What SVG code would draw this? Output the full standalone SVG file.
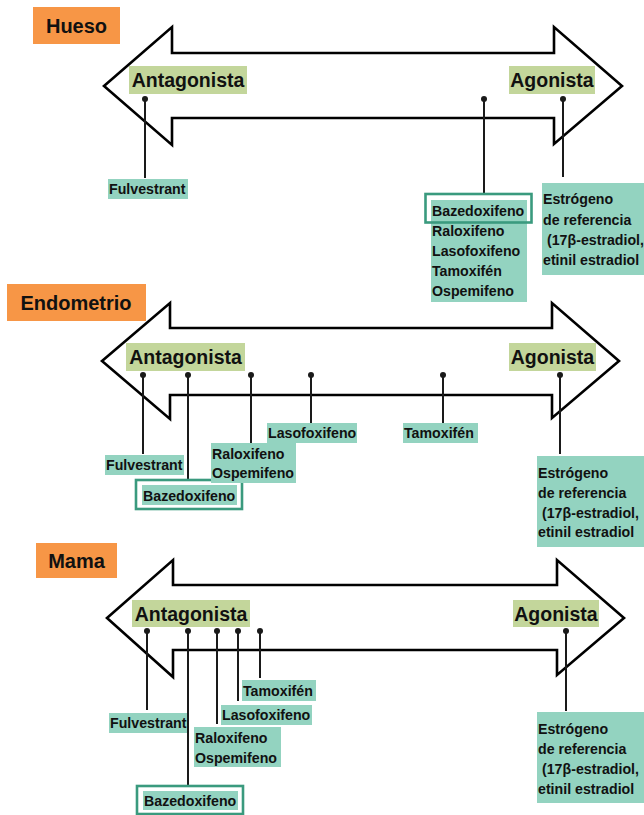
<svg xmlns="http://www.w3.org/2000/svg" width="644" height="815" viewBox="0 0 644 815">
<style>
.bg{fill:#ffffff}
.arrow{fill:#ffffff;stroke:#000000;stroke-width:2.6;stroke-linejoin:miter}
.org{fill:#f79646}
.gl{fill:#c3d69b}
.tl{fill:#93d3c0}
.ol{fill:none;stroke:#3a9a7e;stroke-width:2.6}
.h{font-family:"Liberation Sans",Arial,sans-serif;font-weight:bold;font-size:20px;fill:#111}
.hc{font-family:"Liberation Sans",Arial,sans-serif;font-weight:bold;font-size:19.5px;fill:#111}
.s{font-family:"Liberation Sans",Arial,sans-serif;font-weight:bold;font-size:14.2px;fill:#111}
.ln{stroke:#1a1a1a;stroke-width:2;fill:none}
.dot{fill:#1a1a1a}
</style>
<rect class="bg" x="0" y="0" width="644" height="815"/>

<!-- ===== Hueso ===== -->
<g id="hueso-title"><rect class="org" x="33" y="7" width="87" height="37"/><text class="h" x="76.5" y="33" text-anchor="middle">Hueso</text></g>
<g id="hueso-arrow"><polygon class="arrow" points="104,86 172,27 172,53 554,53 554,27 622,86 554,144 554,118 172,118 172,145"/></g>
<g id="hueso-antagonista"><rect class="gl" x="129" y="66" width="118" height="28"/><text class="hc" x="188" y="87" text-anchor="middle">Antagonista</text></g>
<g id="hueso-agonista"><rect class="gl" x="509" y="66" width="86" height="28"/><text class="hc" x="552" y="87" text-anchor="middle">Agonista</text></g>
<g id="hueso-connectors">
<line class="ln" x1="145" y1="99" x2="145" y2="178"/><circle class="dot" cx="145" cy="99" r="3"/>
<line class="ln" x1="484" y1="99" x2="484" y2="194"/><circle class="dot" cx="484" cy="99" r="3"/>
<line class="ln" x1="563" y1="99" x2="563" y2="177"/><circle class="dot" cx="563" cy="99" r="3"/>
</g>
<g id="hueso-fulvestrant"><rect class="tl" x="108" y="179" width="80" height="20"/><text class="s" x="109" y="194">Fulvestrant</text></g>
<g id="hueso-serms"><rect class="tl" x="431" y="200" width="96" height="102"/>
<rect class="ol" x="425.5" y="194" width="106" height="28.5"/>
<text class="s" x="432" y="216">Bazedoxifeno</text>
<text class="s" x="432" y="236">Raloxifeno</text>
<text class="s" x="432" y="256">Lasofoxifeno</text>
<text class="s" x="432" y="276">Tamoxifén</text>
<text class="s" x="432" y="296">Ospemifeno</text></g>
<g id="hueso-estrogeno"><rect class="tl" x="542" y="183" width="102" height="92"/>
<text class="s" x="543" y="204">Estrógeno</text>
<text class="s" x="543" y="225">de referencia</text>
<text class="s" x="547" y="245">(17β-estradiol,</text>
<text class="s" x="543" y="265">etinil estradiol</text></g>

<!-- ===== Endometrio ===== -->
<g id="endometrio-title"><rect class="org" x="7" y="284" width="139" height="37"/><text class="h" x="76" y="310" text-anchor="middle">Endometrio</text></g>
<g id="endometrio-arrow"><polygon class="arrow" points="102,361 170,303 170,328 552,328 552,303 619,361 552,418 552,395 170,395 170,419"/></g>
<g id="endometrio-antagonista"><rect class="gl" x="126" y="343" width="119" height="28"/><text class="hc" x="185.5" y="364" text-anchor="middle">Antagonista</text></g>
<g id="endometrio-agonista"><rect class="gl" x="509" y="343" width="87" height="28"/><text class="hc" x="552.5" y="364" text-anchor="middle">Agonista</text></g>
<g id="endometrio-connectors">
<line class="ln" x1="143" y1="375" x2="143" y2="454"/><circle class="dot" cx="143" cy="375" r="3"/>
<line class="ln" x1="188" y1="375" x2="188" y2="481"/><circle class="dot" cx="188" cy="375" r="3"/>
<line class="ln" x1="251" y1="375" x2="251" y2="443"/><circle class="dot" cx="251" cy="375" r="3"/>
<line class="ln" x1="311" y1="375" x2="311" y2="423"/><circle class="dot" cx="311" cy="375" r="3"/>
<line class="ln" x1="443" y1="375" x2="443" y2="423"/><circle class="dot" cx="443" cy="375" r="3"/>
<line class="ln" x1="560" y1="375" x2="560" y2="454"/><circle class="dot" cx="560" cy="375" r="3"/>
</g>
<g id="endometrio-fulvestrant"><rect class="tl" x="105" y="455" width="79" height="20"/><text class="s" x="106" y="470">Fulvestrant</text></g>
<g id="endometrio-bazedoxifeno"><rect class="tl" x="142" y="485" width="95" height="20"/><rect class="ol" x="136" y="480" width="106" height="29"/><text class="s" x="143" y="501">Bazedoxifeno</text></g>
<g id="endometrio-raloxifeno"><rect class="tl" x="211" y="443" width="85" height="40"/><text class="s" x="212" y="459">Raloxifeno</text><text class="s" x="212" y="478">Ospemifeno</text></g>
<g id="endometrio-lasofoxifeno"><rect class="tl" x="267" y="423" width="90" height="20"/><text class="s" x="268" y="438">Lasofoxifeno</text></g>
<g id="endometrio-tamoxifen"><rect class="tl" x="403" y="423" width="75" height="20"/><text class="s" x="404" y="438">Tamoxifén</text></g>
<g id="endometrio-estrogeno"><rect class="tl" x="537" y="456" width="107" height="91"/>
<text class="s" x="538" y="478">Estrógeno</text>
<text class="s" x="538" y="498">de referencia</text>
<text class="s" x="542" y="518">(17β-estradiol,</text>
<text class="s" x="538" y="537">etinil estradiol</text></g>

<!-- ===== Mama ===== -->
<g id="mama-title"><rect class="org" x="36" y="543" width="81" height="35"/><text class="h" x="76.5" y="568" text-anchor="middle">Mama</text></g>
<g id="mama-arrow"><polygon class="arrow" points="107,618 173,560 173,585 557,585 557,560 624,618 557,675 557,650 173,650 173,677"/></g>
<g id="mama-antagonista"><rect class="gl" x="132" y="600" width="118" height="27"/><text class="hc" x="191" y="621" text-anchor="middle">Antagonista</text></g>
<g id="mama-agonista"><rect class="gl" x="513" y="600" width="86" height="27"/><text class="hc" x="556" y="621" text-anchor="middle">Agonista</text></g>
<g id="mama-connectors">
<line class="ln" x1="147" y1="631" x2="147" y2="710"/><circle class="dot" cx="147" cy="631" r="3"/>
<line class="ln" x1="188" y1="631" x2="188" y2="787"/><circle class="dot" cx="188" cy="631" r="3"/>
<line class="ln" x1="217" y1="631" x2="217" y2="724"/><circle class="dot" cx="217" cy="631" r="3"/>
<line class="ln" x1="238" y1="631" x2="238" y2="701"/><circle class="dot" cx="238" cy="631" r="3"/>
<line class="ln" x1="260" y1="631" x2="260" y2="678"/><circle class="dot" cx="260" cy="631" r="3"/>
<line class="ln" x1="566" y1="631" x2="566" y2="711"/><circle class="dot" cx="566" cy="631" r="3"/>
</g>
<g id="mama-fulvestrant"><rect class="tl" x="109" y="713" width="78" height="20"/><text class="s" x="110" y="728">Fulvestrant</text></g>
<g id="mama-bazedoxifeno"><rect class="tl" x="143" y="791" width="95" height="19"/><rect class="ol" x="137" y="786" width="106" height="28"/><text class="s" x="144" y="806">Bazedoxifeno</text></g>
<g id="mama-raloxifeno"><rect class="tl" x="194" y="727" width="87" height="40"/><text class="s" x="195" y="743">Raloxifeno</text><text class="s" x="195" y="763">Ospemifeno</text></g>
<g id="mama-lasofoxifeno"><rect class="tl" x="221" y="705" width="91" height="20"/><text class="s" x="222" y="720">Lasofoxifeno</text></g>
<g id="mama-tamoxifen"><rect class="tl" x="242" y="680" width="74" height="21"/><text class="s" x="243" y="696">Tamoxifén</text></g>
<g id="mama-estrogeno"><rect class="tl" x="537" y="712" width="107" height="91"/>
<text class="s" x="538" y="734">Estrógeno</text>
<text class="s" x="538" y="754">de referencia</text>
<text class="s" x="542" y="774">(17β-estradiol,</text>
<text class="s" x="538" y="794">etinil estradiol</text></g>
</svg>
